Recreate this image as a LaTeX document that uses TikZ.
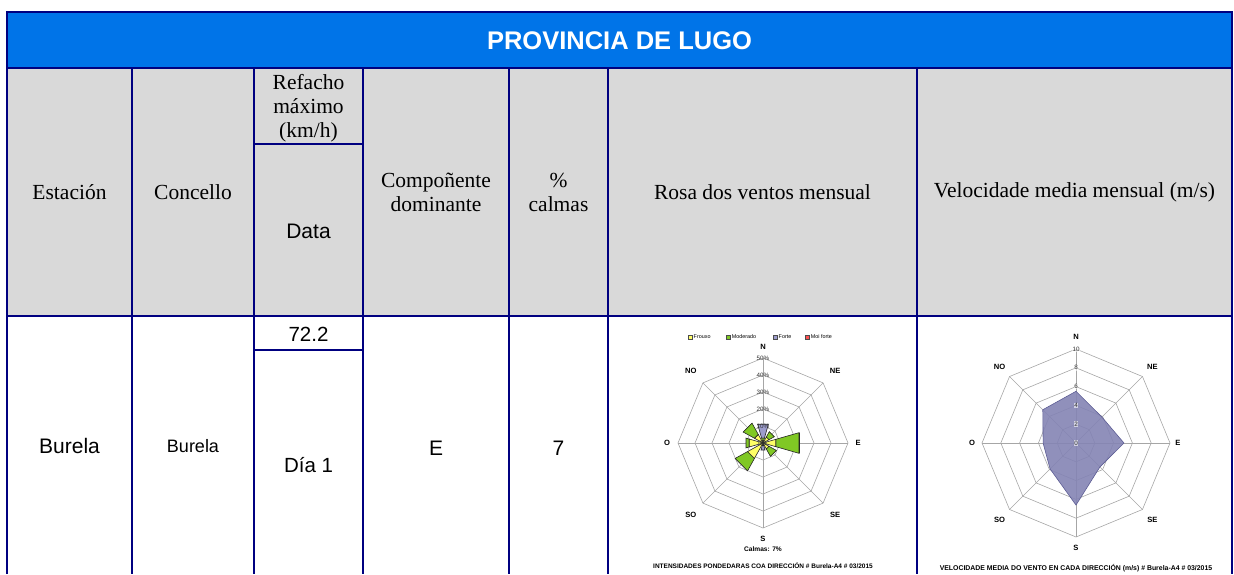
\documentclass[tikz,border=0pt]{standalone}
\usepackage{fontspec}
\setmainfont{Liberation Serif}
\newfontfamily\arialf{Liberation Sans}
\usetikzlibrary{calc}
\definecolor{navy}{HTML}{000080}
\definecolor{bandblue}{HTML}{0074E8}
\definecolor{hdgrey}{HTML}{D9D9D9}
\definecolor{gridgrey}{HTML}{A6A6A6}
\definecolor{frouxo}{HTML}{FFFF66}
\definecolor{moderado}{HTML}{80C824}
\definecolor{forte}{HTML}{9C9CCC}
\definecolor{moiforte}{HTML}{FF5050}
\definecolor{velfill}{HTML}{8484B4}
\definecolor{veledge}{HTML}{5C5C94}
\def\hdfont{\fontsize{21.5}{24}\selectfont}
\def\bdfont{\arialf\fontsize{21}{24}\selectfont}
\def\chfont{\arialf\bfseries\fontsize{7.6}{8}\selectfont}
\def\smfont{\arialf\fontsize{6.3}{7}\selectfont}
% one bar of the wind rose: colour, direction, inner and outer radius
\newcommand{\rosebar}[4]{\filldraw[wedge,fill=#1] ({#2-16}:#3) -- ({#2-16}:#4) -- ({#2+16}:#4) -- ({#2+16}:#3) -- cycle;}

\tikzset{
	rule/.style={navy,line width=2pt},
	hd/.style={align=center,font=\hdfont,inner sep=0pt},
	bd/.style={font=\bdfont,inner sep=0pt},
	ring/.style={gridgrey,line width=0.6pt},
	wedge/.style={draw=black!85,line width=0.6pt},
	dirlab/.style={font=\chfont,inner sep=0pt},
	ringlab/.style={font=\smfont,text=black!80,inner sep=0.6pt},
	legbox/.style={draw=black!70,line width=0.4pt,minimum size=3.8pt,inner sep=0pt}
}

\begin{document}
\begin{tikzpicture}[x=1pt,y=1pt]
	\useasboundingbox (0,0) rectangle (1234,574);
	% fills
	\fill[bandblue] (7,562) rectangle (1232,506);
	\fill[hdgrey] (7,506) rectangle (1232,258);
	\node[font=\arialf\bfseries\fontsize{25.5}{28}\selectfont,text=white] (title) at (619.5,533) {PROVINCIA DE LUGO};
	% header row
	\node[hd] (hEstacion) at (69.5,382) {Estación};
	\node[hd] (hConcello) at (193,382) {Concello};
	\node[hd] (hRefacho) at (308.5,465.5) {Refacho\\máximo\\(km/h)};
	\node[hd,font=\bdfont] (hData) at (308.5,343) {Data};
	\node[hd] (hComp) at (436,382) {Compoñente\\dominante};
	\node[hd] (hCalmas) at (558.5,382) {\%\\calmas};
	\node[hd] (hRosa) at (762.5,382) {Rosa dos ventos mensual};
	\node[hd] (hVel) at (1074.5,382) {Velocidade media mensual (m/s)};
	% body row
	\node[bd] (bEstacion) at (69.5,128) {Burela};
	\node[bd,font=\arialf\fontsize{18}{20}\selectfont] (bConcello) at (193,128) {Burela};
	\node[bd,font=\arialf\fontsize{20.5}{24}\selectfont] (bRefacho) at (308.5,240) {72.2};
	\node[bd,font=\arialf\fontsize{20.5}{24}\selectfont] (bData) at (308.5,109) {Día 1};
	\node[bd] (bComp) at (436,126) {E};
	\node[bd] (bCalmas) at (558.5,126) {7};
	% rules
	\draw[rule] (7,0) -- (7,562) -- (1232,562) -- (1232,0);
	\draw[rule] (7,506) -- (1232,506);
	\draw[rule] (7,258) -- (1232,258);
	\foreach \x in {132,254,363,509,608,917}
		\draw[rule] (\x,506) -- (\x,0);
	\draw[rule] (254,430) -- (363,430);
	\draw[rule] (254,224) -- (363,224);

	% wind rose
	\begin{scope}[shift={(763,131)},x=1.7pt,y=1.7pt]
		\foreach \r in {10,20,...,50}
			\draw[ring] (0:\r) \foreach \a in {45,90,...,315}{ -- (\a:\r)} -- cycle;
		\foreach \a in {0,45,...,315}
			\draw[ring] (0,0) -- (\a:50);
		\foreach \a/\y/\g/\p in {90/1.5/3/11.5, 45/4/7.6/7.6, 0/7.8/22/22, -45/4/9/9, -90/1.5/1.5/4.3, -135/10.4/18.7/18.7, 180/8.4/10.4/10.4, 135/5.7/13.3/13.3}{
			\rosebar{forte}{\a}{\g}{\p}
			\rosebar{moderado}{\a}{\y}{\g}
			\rosebar{frouxo}{\a}{0}{\y}
		}
		\foreach \r in {0,10,...,50}
			\node[ringlab] (rp\r) at (90:\r) {\r\%};
		\foreach \a/\t/\r in {90/N/56.5, 45/NE/60, 0/E/56, -45/SE/60, -90/S/56.5, -135/SO/60, 180/O/56.5, 135/NO/60}
			\node[dirlab] (rose\t) at (\a:\r) {\t};
		\node[dirlab,font=\arialf\bfseries\fontsize{6.6}{8}\selectfont] (calmas) at (0,-62.5) {Calmas: 7\%};
		\node[font=\arialf\bfseries\fontsize{6.5}{7}\selectfont,inner sep=0pt] (roseTitle) at (0,-72) {INTENSIDADES PONDEDARAS COA DIRECCIÓN \# Burela-A4 \# 03/2015};
		% legend
		\foreach \x/\c/\t in {-43/frouxo/Frouxo, -20.6/moderado/Moderado, 7/forte/Forte, 25.9/moiforte/Moi forte}{
			\node[legbox,fill=\c] (box\c) at (\x,62.4) {};
			\node[font=\arialf\fontsize{5.4}{6}\selectfont,inner sep=0pt,anchor=west] (leg\c) at ($(box\c.east)+(1.5pt,0)$) {\t};
		}
	\end{scope}

	% mean speed
	\begin{scope}[shift={(1076,131)},x=9.4pt,y=9.4pt]
		\foreach \r in {2,4,...,10}
			\draw[ring] (0:\r) \foreach \a in {45,90,...,315}{ -- (\a:\r)} -- cycle;
		\foreach \a in {0,45,...,315}
			\draw[ring] (0,0) -- (\a:10);
		\filldraw[fill=velfill,draw=veledge,line width=0.6pt,fill opacity=0.9]
			(90:5.5) -- (45:3.9) -- (0:5.1) -- (-45:3.6) -- (-90:6.6) -- (-135:3.9) -- (180:3.5) -- (135:5.0) -- cycle;
		\foreach \r in {0,2,...,10}
			\node[ringlab,fill=white,fill opacity=0.6,text opacity=1] (vp\r) at (90:\r) {\r};
		\foreach \a/\t/\r in {90/N/11.3, 45/NE/11.5, 0/E/10.85, -45/SE/11.5, -90/S/11.2, -135/SO/11.5, 180/O/11.05, 135/NO/11.5}
			\node[dirlab] (vel\t) at (\a:\r) {\t};
		\node[font=\arialf\bfseries\fontsize{6.9}{8}\selectfont,inner sep=0pt] (velTitle) at (0,-13.3) {VELOCIDADE MEDIA DO VENTO EN CADA DIRECCIÓN (m/s) \# Burela-A4 \# 03/2015};
	\end{scope}
\end{tikzpicture}
\end{document}
